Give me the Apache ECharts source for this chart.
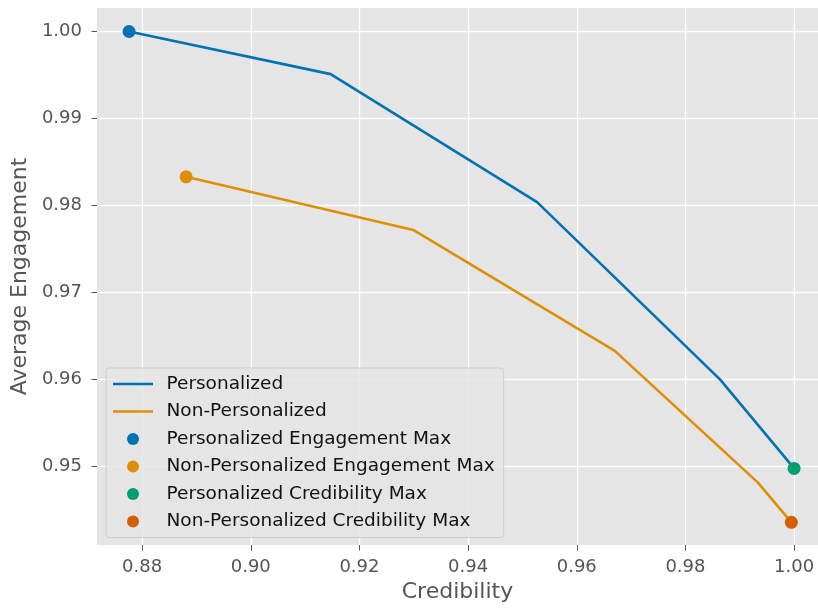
<!DOCTYPE html>
<html>
<head>
<meta charset="utf-8">
<script src="https://cdn.jsdelivr.net/npm/echarts@6/dist/echarts.min.js"></script>
<style>
html,body{margin:0;padding:0;background:#fff;}
#chart{width:818px;height:612px;}
</style>
</head>
<body>
<div id="chart"></div>
<script>
// Data
const persCred = [0.8776, 0.9147, 0.9527, 0.9864, 1.0000];
const persEng  = [1.0000, 0.9951, 0.9804, 0.9600, 0.9498];
const nonCred  = [0.8881, 0.9299, 0.9670, 0.9933, 0.9995];
const nonEng   = [0.9833, 0.9772, 0.9633, 0.9482, 0.9436];
const xTicks = [0.88, 0.90, 0.92, 0.94, 0.96, 0.98, 1.00];
const yTicks = [0.95, 0.96, 0.97, 0.98, 0.99, 1.00];
const names = ['Personalized', 'Non-Personalized', 'Personalized Engagement Max',
  'Non-Personalized Engagement Max', 'Personalized Credibility Max', 'Non-Personalized Credibility Max'];
const colors = ['#0173B2', '#DE8F05', '#0173B2', '#DE8F05', '#029E73', '#D55E00'];

const FONT = 'DejaVu Sans';
const zip = (a, b) => a.map((v, i) => [v, b[i]]);
const pers = zip(persCred, persEng);
const non = zip(nonCred, nonEng);

// max points
const argmax = arr => arr.indexOf(Math.max(...arr));
const pEngMax = pers[argmax(persEng)];
const nEngMax = non[argmax(nonEng)];
const pCredMax = pers[argmax(persCred)];
const nCredMax = non[argmax(nonCred)];

const chart = echarts.init(document.getElementById('chart'), null, {renderer: 'canvas'});
const axisCommon = {
  type: 'value',
  axisLine: {show: false},
  axisTick: {show: true, length: 5.5, lineStyle: {color: '#555555', width: 1}},
  splitLine: {show: true, lineStyle: {color: '#ffffff', width: 1.3}},
  nameTextStyle: {color: '#555555', fontSize: 22, fontFamily: FONT},
};
const legendData = names.map((n, i) => i < 2
  ? {name: n, itemStyle: {color: 'rgba(0,0,0,0)', opacity: 0, borderWidth: 0}, lineStyle: {color: colors[i], width: 2.6, opacity: 1}}
  : {name: n});
const option = {
  animation: false,
  textStyle: {fontFamily: FONT},
  grid: {left: 97, right: 0, top: 8, bottom: 67, show: true, backgroundColor: '#E5E5E5', borderWidth: 0},
  xAxis: Object.assign({}, axisCommon, {
    min: 0.8717, max: 1.0044,
    name: 'Credibility', nameLocation: 'middle', nameGap: 35,
    axisTick: Object.assign({}, axisCommon.axisTick, {customValues: xTicks}),
    axisLabel: {customValues: xTicks, formatter: v => Number(v).toFixed(2), color: '#555555', fontSize: 18, fontFamily: FONT, margin: 13}
  }),
  yAxis: Object.assign({}, axisCommon, {
    min: 0.9410, max: 1.0027,
    name: 'Average Engagement', nameLocation: 'middle', nameGap: 61,
    axisTick: Object.assign({}, axisCommon.axisTick, {customValues: yTicks}),
    axisLabel: {customValues: yTicks, formatter: v => Number(v).toFixed(2), color: '#555555', fontSize: 18, fontFamily: FONT, margin: 15}
  }),
  legend: {
    orient: 'vertical', left: 106, top: 368,
    data: legendData,
    itemWidth: 40, itemHeight: 12, itemGap: 8.5,
    padding: [6.5, 9, 6.5, 5.7],
    backgroundColor: 'rgba(229,229,229,0.8)',
    borderColor: 'rgba(200,200,200,0.8)', borderWidth: 1, borderRadius: 3,
    textStyle: {color: '#111111', fontSize: 18.5, fontFamily: FONT, padding: [0, 0, 0, 8.5]},
    selectedMode: false
  },
  series: [
    {name: names[0], type: 'line', data: pers, symbol: 'none', lineStyle: {color: colors[0], width: 2.6}, itemStyle: {color: colors[0]}, z: 2},
    {name: names[1], type: 'line', data: non, symbol: 'none', lineStyle: {color: colors[1], width: 2.6}, itemStyle: {color: colors[1]}, z: 2},
    {name: names[2], type: 'scatter', data: [pEngMax], symbolSize: 13, itemStyle: {color: colors[2], opacity: 1}, z: 3},
    {name: names[3], type: 'scatter', data: [nEngMax], symbolSize: 13, itemStyle: {color: colors[3], opacity: 1}, z: 3},
    {name: names[4], type: 'scatter', data: [pCredMax], symbolSize: 13, itemStyle: {color: colors[4], opacity: 1}, z: 3},
    {name: names[5], type: 'scatter', data: [nCredMax], symbolSize: 13, itemStyle: {color: colors[5], opacity: 1}, z: 3}
  ]
};
chart.setOption(option);
</script>
</body>
</html>
